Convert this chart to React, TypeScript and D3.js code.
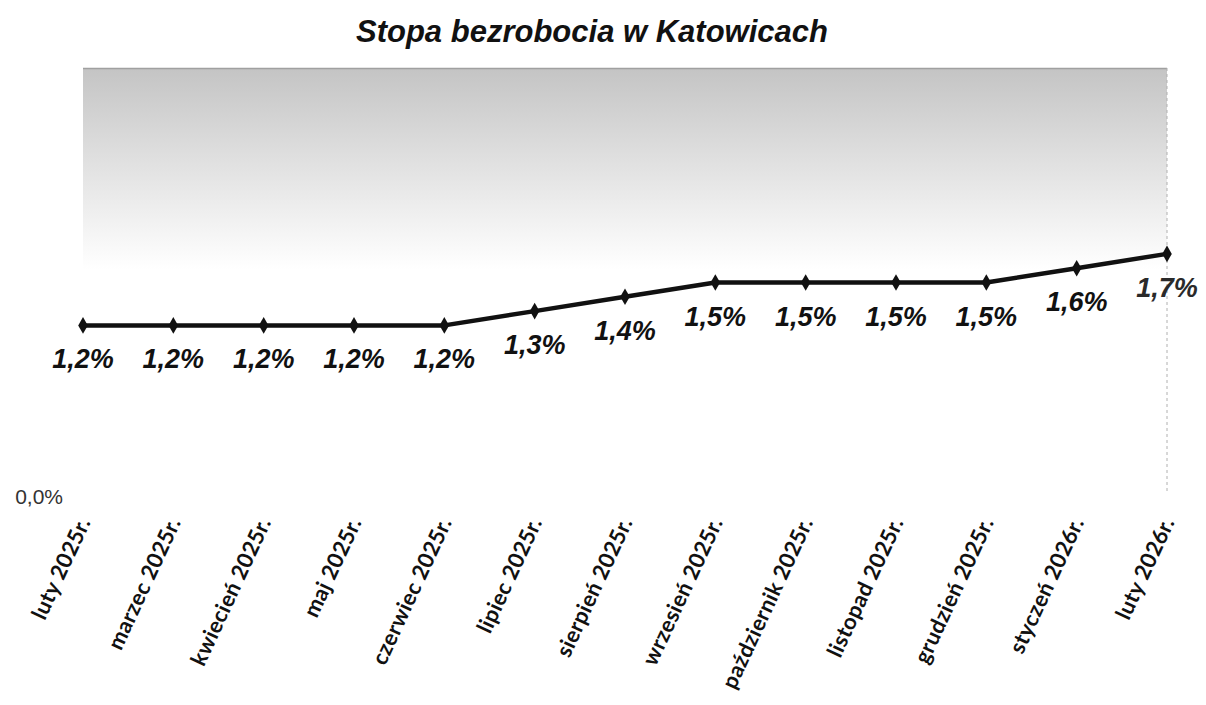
import React from 'react';
import * as d3 from 'd3';

const months = [
  'luty 2025r.', 'marzec 2025r.', 'kwiecień 2025r.', 'maj 2025r.', 'czerwiec 2025r.',
  'lipiec 2025r.', 'sierpień 2025r.', 'wrzesień 2025r.', 'październik 2025r.',
  'listopad 2025r.', 'grudzień 2025r.', 'styczeń 2026r.', 'luty 2026r.'
];
const rates = [1.2, 1.2, 1.2, 1.2, 1.2, 1.3, 1.4, 1.5, 1.5, 1.5, 1.5, 1.6, 1.7];
const yTicks = [0];

const W = 1206;
const H = 705;
const left = 83;
const right = 1167;
const top = 68;
const bottom = 497;

const fmt = (v: number) => v.toFixed(1).replace('.', ',') + '%';

export default function App() {
  const x = d3.scalePoint<string>().domain(months).range([left, right]);
  const y = d3.scaleLinear().domain([0, 3]).range([bottom, top]);

  const line = d3.line<number>()
    .x((_, i) => x(months[i])!)
    .y(d => y(d));

  const diamond = d3.symbol().type(d3.symbolDiamond).size(80)();

  return (
    <svg width={W} height={H} style={{ position: 'absolute', left: 0, top: 0, background: '#fff' }}>
      <defs>
        <linearGradient id="bg" x1="0" y1="0" x2="0" y2="1">
          <stop offset="0" stopColor="#c4c4c4" />
          <stop offset="0.2" stopColor="#dedede" />
          <stop offset="0.47" stopColor="#ffffff" />
          <stop offset="1" stopColor="#ffffff" />
        </linearGradient>
      </defs>
      <rect x={left} y={top} width={right - left} height={bottom - top} fill="url(#bg)" />
      <line x1={left} x2={right} y1={top + 0.5} y2={top + 0.5} stroke="#a0a0a0" strokeWidth={1.5} />
      <line x1={right} x2={right} y1={top} y2={bottom - 6} stroke="#b0b0b0" strokeWidth={1} strokeDasharray="3,3" />

      <text x={592} y={42} textAnchor="middle" fontFamily="Arial, 'Liberation Sans', sans-serif"
        fontWeight="bold" fontStyle="italic" fontSize={31} fill="#111">
        Stopa bezrobocia w Katowicach
      </text>

      {yTicks.map(t => (
        <text key={t} x={63} y={y(t) + 7} textAnchor="end" fontFamily="Arial, 'Liberation Sans', sans-serif"
          fontSize={21} fill="#333">{fmt(t)}</text>
      ))}

      <path d={line(rates)!} fill="none" stroke="#111" strokeWidth={4.5} strokeLinejoin="round" />
      {rates.map((r, i) => (
        <path key={i} d={diamond!} transform={`translate(${x(months[i])},${y(r)})`} fill="#111" />
      ))}

      {rates.map((r, i) => (
        <text key={'l' + i} x={x(months[i])!} y={y(r) + 43} textAnchor="middle"
          fontFamily="Arial, 'Liberation Sans', sans-serif" fontWeight="bold" fontStyle="italic"
          fontSize={27} fill={i === rates.length - 1 ? '#2a2a2a' : '#111'}>
          {fmt(r)}
        </text>
      ))}

      {months.map(m => (
        <text key={m} transform={`translate(${x(m)! + 8},${522}) rotate(-65)`} textAnchor="end"
          fontFamily="Lato, 'Open Sans', sans-serif" fontWeight="bold" fontSize={22} fill="#111"
          letterSpacing={0.3}>
          {m}
        </text>
      ))}
    </svg>
  );
}
